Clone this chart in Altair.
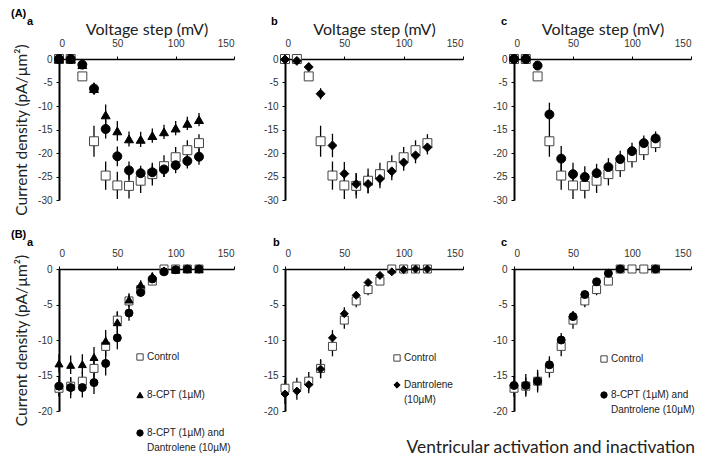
import altair as alt
import pandas as pd

# ---------------- data ----------------
volt = [0, 10, 20, 30, 40, 50, 60, 70, 80, 90, 100, 110, 120]

# (A) activation
act_ctrl = [0, 0, -3.7, -17.5, -24.8, -26.9, -27.0, -25.9, -24.5, -22.8, -20.9, -19.4, -17.9]
act_ctrl_err = [0, 0, 0.5, 3.3, 3.0, 2.9, 2.7, 2.6, 2.4, 2.3, 2.2, 2.1, 1.9]
act_cpt = [0, 0, -1.2, -6.3, -11.9, -15.3, -17.0, -17.1, -16.3, -15.5, -14.7, -13.7, -12.9]
act_cpt_err = [0, 0, 0.3, 1.2, 2.2, 2.1, 1.6, 1.6, 1.5, 1.5, 1.5, 1.4, 1.4]
act_combo_a = [0, 0, -1.2, -6.3, -14.9, -20.7, -23.7, -24.3, -24.1, -23.5, -22.6, -21.7, -20.8]
act_combo_a_err = [0, 0, 0.3, 1.3, 2.0, 2.1, 1.9, 1.6, 1.7, 1.6, 1.7, 1.6, 1.7]
act_dan = [-0.1, -0.4, -1.7, -7.4, -18.4, -24.4, -26.6, -26.6, -25.5, -23.9, -22.0, -20.5, -18.8]
act_dan_err = [0, 0.2, 0.3, 1.2, 2.5, 2.5, 2.3, 2.0, 2.0, 1.9, 1.8, 1.7, 1.5]
act_combo_c = [0, 0, -1.4, -11.8, -21.2, -24.5, -25.1, -24.3, -23.0, -21.3, -19.6, -17.9, -16.9]
act_combo_c_err = [0, 0, 0.3, 2.5, 2.7, 2.4, 2.3, 2.0, 1.9, 1.8, 1.8, 1.6, 1.5]

# (B) inactivation
ina_ctrl = [-16.8, -16.5, -15.8, -14.0, -10.9, -7.2, -4.5, -2.9, -1.7, 0, 0, 0, 0]
ina_ctrl_err = [1.2, 1.2, 1.3, 1.3, 1.4, 1.2, 0.9, 0.8, 0.4, 0, 0, 0, 0]
ina_cpt = [-13.3, -13.5, -13.4, -12.4, -10.1, -7.5, -4.3, -2.2, -1.0, -0.2, -0.1, 0, 0]
ina_cpt_err = [1.3, 1.3, 1.4, 1.4, 1.5, 1.5, 0.9, 0.6, 0.5, 0.2, 0.1, 0, 0]
ina_combo_a = [-16.5, -16.7, -16.7, -16.0, -13.3, -9.7, -6.2, -3.3, -1.4, -0.4, -0.1, 0, 0]
ina_combo_a_err = [1.3, 1.5, 1.4, 1.6, 1.7, 1.6, 1.1, 0.6, 0.4, 0.2, 0.1, 0, 0]
ina_dan = [-17.6, -17.2, -16.3, -14.1, -9.7, -6.3, -3.7, -1.9, -0.9, -0.4, -0.1, 0, 0]
ina_dan_err = [1.4, 1.2, 1.2, 1.3, 1.1, 0.9, 0.5, 0.3, 0.3, 0.1, 0, 0, 0]
ina_combo_c = [-16.4, -16.4, -15.8, -13.5, -10.0, -6.7, -3.6, -1.8, -0.6, 0, None, None, 0]
ina_combo_c_err = [1.2, 1.6, 1.6, 1.2, 1.0, 0.8, 0.4, 0.3, 0.2, 0, 0, 0, 0]

CTRL = "Control"
CPT = "8-CPT (1µM)"
COMBO = "8-CPT (1µM) and Dantrolene (10µM)"
DAN = "Dantrolene (10µM)"

SHAPES = {CTRL: "square", CPT: "triangle-up", COMBO: "circle", DAN: "diamond"}
FILLS = {CTRL: "white", CPT: "black", COMBO: "black", DAN: "black"}
STROKES = {CTRL: "#444444", CPT: "black", COMBO: "black", DAN: "black"}

TICK_FONT = "Liberation Sans"
TITLE_FONT = "Lato"
PAD = "\u2800"


def frame(series):
    rows = []
    for name, means, errs in series:
        for v, m, e in zip(volt, means, errs):
            if m is None:
                continue
            rows.append({"series": name, "v": v, "i": m, "lo": m - e, "hi": m + e})
    return pd.DataFrame(rows)


def panel(series, ydom, yvals, width, height, xtitle, ytitle, title, legend, size):
    df = frame(series)
    names = [s[0] for s in series]
    xaxis = dict(orient="top", values=[0, 50, 100, 150], labelFont=TICK_FONT,
                 labelFontSize=10, labelColor="#333333", labelPadding=8,
                 tickSize=3, tickColor="black", domainColor="black", domainWidth=1.5,
                 grid=False, titleFont=TITLE_FONT, titleFontSize=16,
                 titleFontWeight="normal", titleColor="#222222", titlePadding=1,
                 labelOverlap=False)
    xaxis["title"] = xtitle
    yaxis = dict(orient="left", values=yvals, labelFont=TICK_FONT, labelFontSize=10,
                 labelColor="#333333", labelPadding=4, tickSize=3, tickColor="black",
                 domainColor="black", domainWidth=2, grid=False, labelOverlap=False,
                 labelExpr="'' + datum.value", titleFont=TITLE_FONT, titleFontSize=15.5,
                 titleFontWeight="normal", titleColor="#222222", titlePadding=8)
    yaxis["title"] = ytitle
    xs = alt.Scale(domain=[0, 150], nice=False, zero=False)
    ys = alt.Scale(domain=ydom, nice=False, zero=False)
    base = alt.Chart(df)
    rules = base.mark_rule(color="black", strokeWidth=1.3).encode(
        x=alt.X("v:Q", scale=xs, axis=alt.Axis(**xaxis)),
        y=alt.Y("lo:Q", scale=ys, axis=alt.Axis(**yaxis)),
        y2="hi:Q")
    pts = base.mark_point(filled=True, size=size, opacity=1, strokeWidth=1).encode(
        x=alt.X("v:Q", scale=xs, axis=alt.Axis(**xaxis)),
        y=alt.Y("i:Q", scale=ys, axis=alt.Axis(**yaxis)),
        shape=alt.Shape("series:N", sort=names,
                        scale=alt.Scale(domain=names, range=[SHAPES[n] for n in names]),
                        legend=legend),
        fill=alt.Fill("series:N", sort=names,
                      scale=alt.Scale(domain=names, range=[FILLS[n] for n in names]),
                      legend=legend),
        stroke=alt.Stroke("series:N", sort=names,
                          scale=alt.Scale(domain=names, range=[STROKES[n] for n in names]),
                          legend=legend),
    )
    return alt.layer(rules, pts).properties(width=width, height=height, title=title)


def leg(x, y, rowpad, expr):
    return alt.Legend(title=None, orient="none", legendX=x, legendY=y, rowPadding=rowpad,
                      labelFont=TICK_FONT, labelFontSize=10, labelColor="#222222",
                      symbolSize=40, symbolStrokeWidth=1, labelOffset=2, padding=0,
                      labelLimit=300, labelExpr=expr)


combo_expr = ("datum.label == '8-CPT (1µM) and Dantrolene (10µM)' ? "
              "['8-CPT (1µM) and', 'Dantrolene (10µM)'] : datum.label")
dan_expr = ("datum.label == 'Dantrolene (10µM)' ? ['Dantrolene', '(10µM)'] : datum.label")


def ttl(text, dx, offset, sub=None):
    kw = dict(text=text, anchor="start", frame="group", dx=dx, offset=offset,
              font=TICK_FONT, fontSize=11, fontWeight="bold", color="black")
    if sub is not None:
        kw.update(subtitle=sub, subtitleFont=TICK_FONT, subtitleFontSize=11,
                  subtitleFontWeight="bold", subtitleColor="black", subtitlePadding=-3)
    return alt.TitleParams(**kw)


HA = 141
HB = 142
YT = "Current density (pA/µm²)"
XT = "Voltage step (mV)"
YA = [0, -5, -10, -15, -20, -25, -30]
YB = [0, -5, -10, -15, -20]

Aa = panel([(CTRL, act_ctrl, act_ctrl_err), (CPT, act_cpt, act_cpt_err),
            (COMBO, act_combo_a, act_combo_a_err)],
           [-30, 0], YA, 175, HA, XT, YT,
           ttl("(A)", -48, -6, PAD * 2 + "a"), None, 80)
Ab = panel([(CTRL, act_ctrl, act_ctrl_err), (DAN, act_dan, act_dan_err)],
           [-30, 0], YA, 178, HA, XT, None, ttl("b", -14, -6), None, 80)
Ac = panel([(CTRL, act_ctrl, act_ctrl_err), (COMBO, act_combo_c, act_combo_c_err)],
           [-30, 0], YA, 177, HA, XT, None, ttl("c", -13, -6), None, 80)

Ba = panel([(CTRL, ina_ctrl, ina_ctrl_err), (CPT, ina_cpt, ina_cpt_err),
            (COMBO, ina_combo_a, ina_combo_a_err)],
           [-20, 0], YB, 175, HB, None, YT,
           ttl("(B)", -48, 0, PAD * 2 + "a"), leg(76, 83, 27, combo_expr), 64)
Bb = panel([(CTRL, ina_ctrl, ina_ctrl_err), (DAN, ina_dan, ina_dan_err)],
           [-20, 0], YB, 178, HB, None, None,
           ttl("b", -12, 0), leg(107, 84, 15, dan_expr), 64)
Bc = panel([(CTRL, ina_ctrl, ina_ctrl_err), (COMBO, ina_combo_c, ina_combo_c_err)],
           [-20, 0], YB, 177, HB, None, None,
           ttl("c", -13, 0), leg(85, 85, 24, combo_expr), 64)

chart = alt.concat(Aa, Ab, Ac, Ba, Bb, Bc, columns=3,
                   spacing={"row": 69, "column": 51}, bounds="flush").resolve_scale(
    shape="independent", fill="independent", stroke="independent"
).resolve_legend(
    shape="independent", fill="independent", stroke="independent"
).properties(
    title=alt.TitleParams("Ventricular activation and inactivation", orient="bottom",
                          anchor="end", font=TITLE_FONT, fontSize=17.4, fontWeight="normal",
                          color="#222222", offset=-14),
    padding={"left": 3, "top": 0, "right": 0, "bottom": 0},
    background="white",
).configure(
    view={"stroke": None},
    style={"guide-label": {"lineHeight": 15}},
)

chart.save("out.html", embed_options={"renderer": "svg", "actions": False})
